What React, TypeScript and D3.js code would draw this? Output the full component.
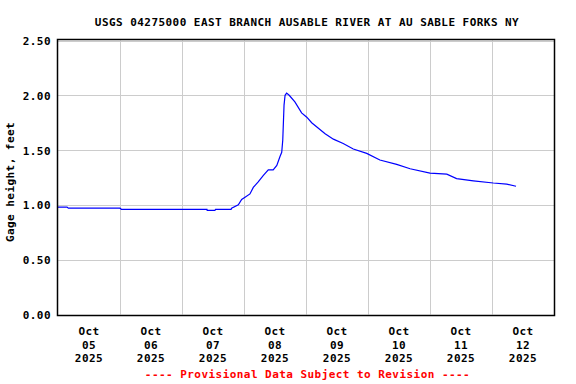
import React from "react";
import * as d3 from "d3";

const titleText = "USGS 04275000 EAST BRANCH AUSABLE RIVER AT AU SABLE FORKS NY";
const yLabel = "Gage height, feet";
const footerText = "---- Provisional Data Subject to Revision ----";

const times = [
  "2025-10-05 00:00", "2025-10-05 03:30", "2025-10-05 04:00", "2025-10-06 00:00",
  "2025-10-06 00:30", "2025-10-07 09:40", "2025-10-07 09:45", "2025-10-07 12:45",
  "2025-10-07 13:00", "2025-10-07 19:00", "2025-10-07 19:12", "2025-10-07 21:48",
  "2025-10-07 23:06", "2025-10-08 00:24", "2025-10-08 02:18", "2025-10-08 03:36",
  "2025-10-08 05:30", "2025-10-08 07:30", "2025-10-08 09:24", "2025-10-08 11:18",
  "2025-10-08 12:42", "2025-10-08 13:54", "2025-10-08 14:36", "2025-10-08 15:00",
  "2025-10-08 15:30", "2025-10-08 15:54", "2025-10-08 16:30", "2025-10-08 17:30",
  "2025-10-08 19:42", "2025-10-08 22:18", "2025-10-09 00:18", "2025-10-09 02:12",
  "2025-10-09 04:48", "2025-10-09 07:24", "2025-10-09 10:36", "2025-10-09 14:24",
  "2025-10-09 18:18", "2025-10-09 23:30", "2025-10-10 04:36", "2025-10-10 11:06",
  "2025-10-10 16:18", "2025-10-11 00:00", "2025-10-11 06:30", "2025-10-11 10:18",
  "2025-10-11 16:48", "2025-10-12 00:30", "2025-10-12 05:42", "2025-10-12 09:18",
];
const gageHeight = [
  0.98, 0.98, 0.97, 0.97,
  0.96, 0.96, 0.95, 0.95,
  0.96, 0.96, 0.97, 1.0,
  1.05, 1.07, 1.1, 1.16,
  1.21, 1.27, 1.32, 1.32,
  1.36, 1.44, 1.48, 1.59,
  1.91, 2.0, 2.02, 2.0,
  1.94, 1.84, 1.8, 1.75,
  1.7, 1.65, 1.6, 1.56,
  1.51, 1.47, 1.41, 1.37,
  1.33, 1.29, 1.28, 1.24,
  1.22, 1.2, 1.19, 1.17,
];
const yTicks = [0, 0.5, 1.0, 1.5, 2.0, 2.5];
const dayTicks = [
  "2025-10-05", "2025-10-06", "2025-10-07", "2025-10-08",
  "2025-10-09", "2025-10-10", "2025-10-11", "2025-10-12", "2025-10-13",
];

const parseT = d3.timeParse("%Y-%m-%d %H:%M");
const parseD = d3.timeParse("%Y-%m-%d");

export default function App() {
  const W = 576, H = 384;
  const left = 58, right = 554, top = 40.5, bottom = 314.5;
  const days = dayTicks.map((d) => parseD(d) as Date);
  const x = d3.scaleTime().domain([days[0], days[days.length - 1]]).range([left, right]);
  const y = d3.scaleLinear().domain([0, 2.5]).range([bottom, top]);
  const data = times.map((t, i) => ({ t: parseT(t) as Date, v: gageHeight[i] }));
  const line = d3.line<{ t: Date; v: number }>().x((d) => x(d.t)).y((d) => y(d.v));
  const font = "'DejaVu Sans Mono', monospace";
  const fs = 11;
  const ls = 0.45;
  const mid = days.slice(0, -1).map((d) => new Date(d.getTime() + 12 * 3600 * 1000));
  const fmtMon = d3.timeFormat("%b");
  const fmtDay = d3.timeFormat("%d");
  const fmtYear = d3.timeFormat("%Y");

  return (
    <svg width={W} height={H} style={{ display: "block", position: "absolute", left: 0, top: 0, background: "#fff" }}
      fontFamily={font} fontWeight="bold" fontSize={fs} letterSpacing={ls}>
      <rect x={0} y={0} width={W} height={H} fill="#fff" />
      <text x={307} y={25.5} textAnchor="middle" fill="#000">{titleText}</text>
      {yTicks.map((t) => (
        <line key={"gy" + t} x1={left} x2={right} y1={Math.round(y(t)) + 0.5} y2={Math.round(y(t)) + 0.5}
          stroke="#cccccc" strokeWidth={1} />
      ))}
      {days.slice(1, -1).map((d, i) => (
        <line key={"gx" + i} x1={Math.round(x(d)) + 0.5} x2={Math.round(x(d)) + 0.5} y1={top} y2={bottom}
          stroke="#cccccc" strokeWidth={1} />
      ))}
      <path d={line(data) || ""} fill="none" stroke="#0000ff" strokeWidth={1.2} />
      <rect x={57.5} y={39.5} width={497} height={276} fill="none" stroke="#000" strokeWidth={1.5} />
      {yTicks.map((t) => (
        <text key={"ty" + t} x={51} y={y(t) + 4.5} textAnchor="end" fill="#000">{t.toFixed(2)}</text>
      ))}
      <text transform={`translate(14,182) rotate(-90)`} textAnchor="middle" fill="#000">{yLabel}</text>
      {mid.map((d, i) => (
        <g key={"tx" + i} transform={`translate(${x(d)},0)`}>
          <text x={0} y={335} textAnchor="middle" fill="#000">{fmtMon(d)}</text>
          <text x={0} y={348.5} textAnchor="middle" fill="#000">{fmtDay(d)}</text>
          <text x={0} y={362} textAnchor="middle" fill="#000">{fmtYear(d)}</text>
        </g>
      ))}
      <text x={307.5} y={378} textAnchor="middle" fill="#ff0000">{footerText}</text>
    </svg>
  );
}
